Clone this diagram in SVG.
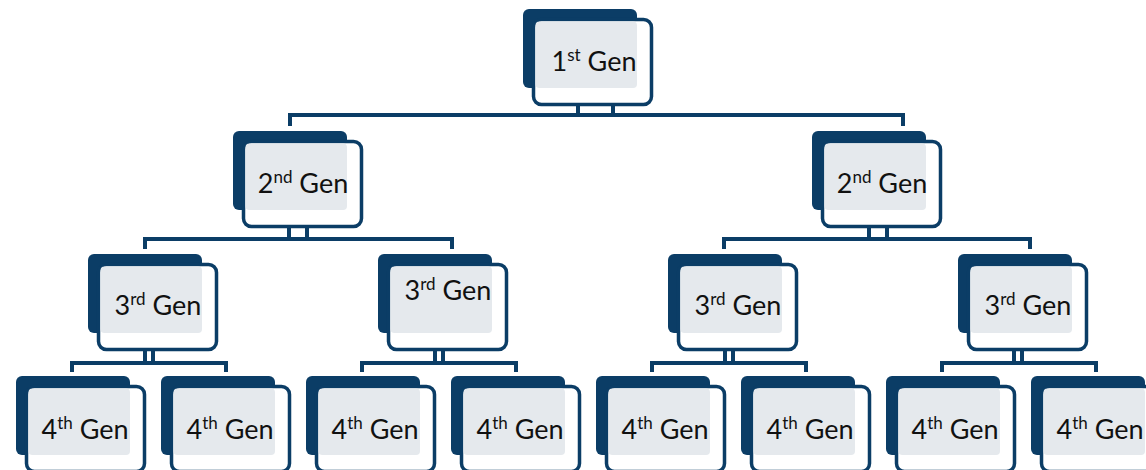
<svg xmlns="http://www.w3.org/2000/svg" width="1146" height="470" viewBox="0 0 1146 470">
  <style>
    .back { fill: #0b3d66; }
    .frame { fill: #ffffff; stroke: #0b3d66; stroke-width: 3.5; }
    .face { fill: #e5e9ed; }
    .tick { stroke: #dbe1e8; stroke-width: 3; fill: none; }
    .link { stroke: #0b3d66; stroke-width: 4; fill: none; stroke-linejoin: miter; }
    .label { font-family: "Lato", "Open Sans", "DejaVu Sans", sans-serif; font-size: 27px; fill: #111111; text-anchor: middle; }
    .sup { font-size: 17px; }
  </style>
  <defs>
    <!-- one node: dark tab behind, white framed card, grey face -->
    <g id="card">
      <rect class="back" x="0" y="0" width="114" height="79" rx="6"/>
      <rect class="frame" x="10.5" y="10.5" width="118" height="85" rx="8"/>
      <rect class="face" x="12.5" y="12.5" width="101.5" height="66.5" rx="4"/>
    </g>
  </defs>

  <!-- connectors -->
  <g id="connectors">
    <!-- level 1 to level 2 -->
    <path class="tick" d="M578,88 V103 M613,88 V103"/>
    <path class="link" d="M578,104 V115 M613,104 V115"/>
    <path class="link" d="M290,126 V115 H903 V126"/>
    <!-- level 2 to level 3 -->
    <path class="tick" d="M289,210 V225 M307,210 V225 M869,210 V225 M887,210 V225"/>
    <path class="link" d="M289,227 V239 M307,227 V239 M869,227 V239 M887,227 V239"/>
    <path class="link" d="M145,249 V239 H452 V249"/>
    <path class="link" d="M724,249 V239 H1030 V249"/>
    <!-- level 3 to level 4 -->
    <path class="tick" d="M145,333 V349 M153,333 V349 M435,333 V349 M443,333 V349 M725,333 V349 M733,333 V349 M1014,333 V349 M1022,333 V349"/>
    <path class="link" d="M145,351 V363 M153,351 V363 M435,351 V363 M443,351 V363 M725,351 V363 M733,351 V363 M1014,351 V363 M1022,351 V363"/>
    <path class="link" d="M72,372 V363 H226 V372"/>
    <path class="link" d="M362,372 V363 H516 V372"/>
    <path class="link" d="M652,372 V363 H806 V372"/>
    <path class="link" d="M942,372 V363 H1096 V372"/>
  </g>

  <!-- level 1 -->
  <g id="gen1">
    <use href="#card" x="523" y="9"/>
    <text class="label" x="594" y="71">1<tspan class="sup" dy="-10">st</tspan><tspan dy="10"> Gen</tspan></text>
  </g>

  <!-- level 2 -->
  <g id="gen2-a">
    <use href="#card" x="233" y="131"/>
    <text class="label" x="303" y="193">2<tspan class="sup" dy="-10">nd</tspan><tspan dy="10"> Gen</tspan></text>
  </g>
  <g id="gen2-b">
    <use href="#card" x="812" y="131"/>
    <text class="label" x="882" y="193">2<tspan class="sup" dy="-10">nd</tspan><tspan dy="10"> Gen</tspan></text>
  </g>

  <!-- level 3 -->
  <g id="gen3-a">
    <use href="#card" x="88" y="254"/>
    <text class="label" x="158" y="315">3<tspan class="sup" dy="-10">rd</tspan><tspan dy="10"> Gen</tspan></text>
  </g>
  <g id="gen3-b">
    <use href="#card" x="378" y="254"/>
    <text class="label" x="448" y="300">3<tspan class="sup" dy="-10">rd</tspan><tspan dy="10"> Gen</tspan></text>
  </g>
  <g id="gen3-c">
    <use href="#card" x="668" y="254"/>
    <text class="label" x="738" y="315">3<tspan class="sup" dy="-10">rd</tspan><tspan dy="10"> Gen</tspan></text>
  </g>
  <g id="gen3-d">
    <use href="#card" x="958" y="254"/>
    <text class="label" x="1028" y="315">3<tspan class="sup" dy="-10">rd</tspan><tspan dy="10"> Gen</tspan></text>
  </g>

  <!-- level 4 -->
  <g id="gen4-a">
    <use href="#card" x="16" y="376"/>
    <text class="label" x="85" y="439">4<tspan class="sup" dy="-10">th</tspan><tspan dy="10"> Gen</tspan></text>
  </g>
  <g id="gen4-b">
    <use href="#card" x="161" y="376"/>
    <text class="label" x="230" y="439">4<tspan class="sup" dy="-10">th</tspan><tspan dy="10"> Gen</tspan></text>
  </g>
  <g id="gen4-c">
    <use href="#card" x="306" y="376"/>
    <text class="label" x="375" y="439">4<tspan class="sup" dy="-10">th</tspan><tspan dy="10"> Gen</tspan></text>
  </g>
  <g id="gen4-d">
    <use href="#card" x="451" y="376"/>
    <text class="label" x="520" y="439">4<tspan class="sup" dy="-10">th</tspan><tspan dy="10"> Gen</tspan></text>
  </g>
  <g id="gen4-e">
    <use href="#card" x="596" y="376"/>
    <text class="label" x="665" y="439">4<tspan class="sup" dy="-10">th</tspan><tspan dy="10"> Gen</tspan></text>
  </g>
  <g id="gen4-f">
    <use href="#card" x="741" y="376"/>
    <text class="label" x="810" y="439">4<tspan class="sup" dy="-10">th</tspan><tspan dy="10"> Gen</tspan></text>
  </g>
  <g id="gen4-g">
    <use href="#card" x="886" y="376"/>
    <text class="label" x="955" y="439">4<tspan class="sup" dy="-10">th</tspan><tspan dy="10"> Gen</tspan></text>
  </g>
  <g id="gen4-h">
    <use href="#card" x="1031" y="376"/>
    <text class="label" x="1100" y="439">4<tspan class="sup" dy="-10">th</tspan><tspan dy="10"> Gen</tspan></text>
  </g>
</svg>
